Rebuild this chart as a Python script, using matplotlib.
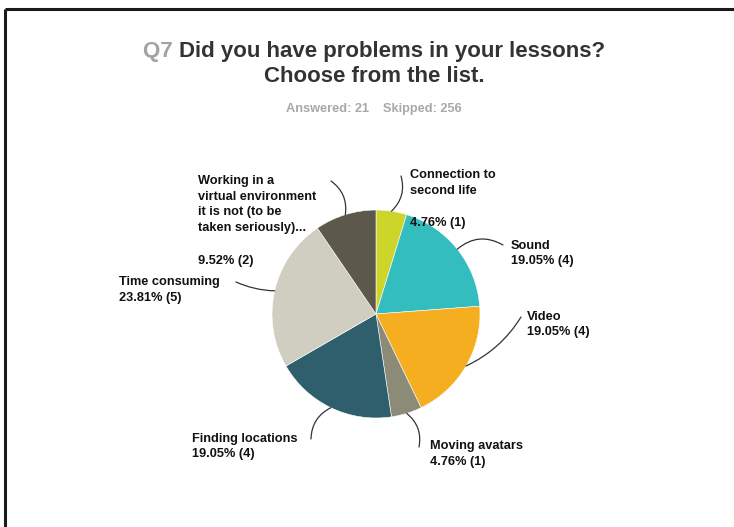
import numpy as np
import matplotlib
matplotlib.use("Agg")
import matplotlib.pyplot as plt
from matplotlib.offsetbox import TextArea, HPacker, AnnotationBbox

# Survey responses (counts) in clockwise order from 12 o'clock
categories = [
    "Connection to\nsecond life",
    "Sound",
    "Video",
    "Moving avatars",
    "Finding locations",
    "Time consuming",
    "Working in a\nvirtual environment\nit is not (to be\ntaken seriously)...",
]
counts = [1, 4, 4, 1, 4, 5, 2]
percent_labels = ["4.76% (1)", "19.05% (4)", "19.05% (4)", "4.76% (1)",
                  "19.05% (4)", "23.81% (5)", "9.52% (2)"]
colors = ["#cdd52a", "#34bdbf", "#f5ae20", "#8b8b78",
          "#2f5f6c", "#d0cec0", "#5c594a"]

W, H = 734, 527
fig = plt.figure(figsize=(W / 100, H / 100), dpi=100)
ax = fig.add_axes([0, 0, 1, 1])

def Y(y):
    # convert top-down pixel row to axes y
    return H - y

cx, cy, r = 376, 314, 104
wedges, _ = ax.pie(counts, colors=colors, startangle=90, counterclock=False,
                   center=(cx, Y(cy)), radius=r,
                   wedgeprops=dict(linewidth=0.4, edgecolor="white"))
ax.set_xlim(0, W)
ax.set_ylim(0, H)
ax.set_aspect("equal")
ax.axis("off")

# Frame lines along the top and left
ax.plot([5, W], [Y(9), Y(9)], color="#1a1a1a", lw=2.2, solid_capstyle="butt")
ax.plot([5, 5], [Y(9), 0], color="#1a1a1a", lw=2.2, solid_capstyle="butt")

# Title and response counts
fs_title = 16
ta1 = TextArea("Q7 ", textprops=dict(color="#a3a3a3", fontsize=fs_title, fontweight="bold",
                                     family="Liberation Sans"))
ta2 = TextArea("Did you have problems in your lessons?",
               textprops=dict(color="#333333", fontsize=fs_title, fontweight="bold",
                              family="Liberation Sans"))
box = HPacker(children=[ta1, ta2], align="baseline", pad=0, sep=0)
ab = AnnotationBbox(box, (374, Y(51)), xycoords="data", frameon=False,
                    box_alignment=(0.5, 0.5), pad=0)
ax.add_artist(ab)
ax.text(374, Y(77), "Choose from the list.", color="#333333", fontsize=fs_title,
        fontweight="bold", family="Liberation Sans", ha="center", va="center")
ax.text(374, Y(109), "Answered: 21    Skipped: 256", color="#a8a8a8", fontsize=9.2,
        fontweight="bold", family="Liberation Sans", ha="center", va="center")

# Label placement (left x, centre y in pixel rows) and leader end points
label_pos = [(410, 183), (511, 253.5), (527, 324.5), (430, 454),
             (192, 446.5), (119, 290), (198, 204.5)]
pct_separate = {0: (410, 223), 6: (198, 261)}
leader_end = [(401, 176), (503, 245), (521, 317), (419, 447),
              (311, 439), (236, 282), (331, 181)]
leader_rad = [-0.3, 0.35, -0.15, 0.3, -0.3, 0.1, -0.3]

total = sum(counts)
angles = np.cumsum([0] + counts)
lbl = dict(fontsize=9.2, fontweight="bold", family="Liberation Sans",
           color="#111111", linespacing=1.38)
for i, (cat, pct) in enumerate(zip(categories, percent_labels)):
    mid = (angles[i] + angles[i + 1]) / 2 / total * 2 * np.pi
    sx = cx + r * np.sin(mid)
    sy = cy - r * np.cos(mid)
    lx, ly = label_pos[i]
    if i in pct_separate:
        ax.text(lx, Y(ly), cat, ha="left", va="center", **lbl)
        px, py = pct_separate[i]
        ax.text(px, Y(py), pct, ha="left", va="center", **lbl)
    else:
        ax.text(lx, Y(ly), cat + "\n" + pct, ha="left", va="center", **lbl)
    ex, ey = leader_end[i]
    ax.annotate("", xy=(sx, Y(sy)), xytext=(ex, Y(ey)),
                arrowprops=dict(arrowstyle="-", color="#333333", lw=0.9,
                                shrinkA=0, shrinkB=0,
                                connectionstyle=f"arc3,rad={leader_rad[i]}"))

fig.savefig("out.png", dpi=100)
